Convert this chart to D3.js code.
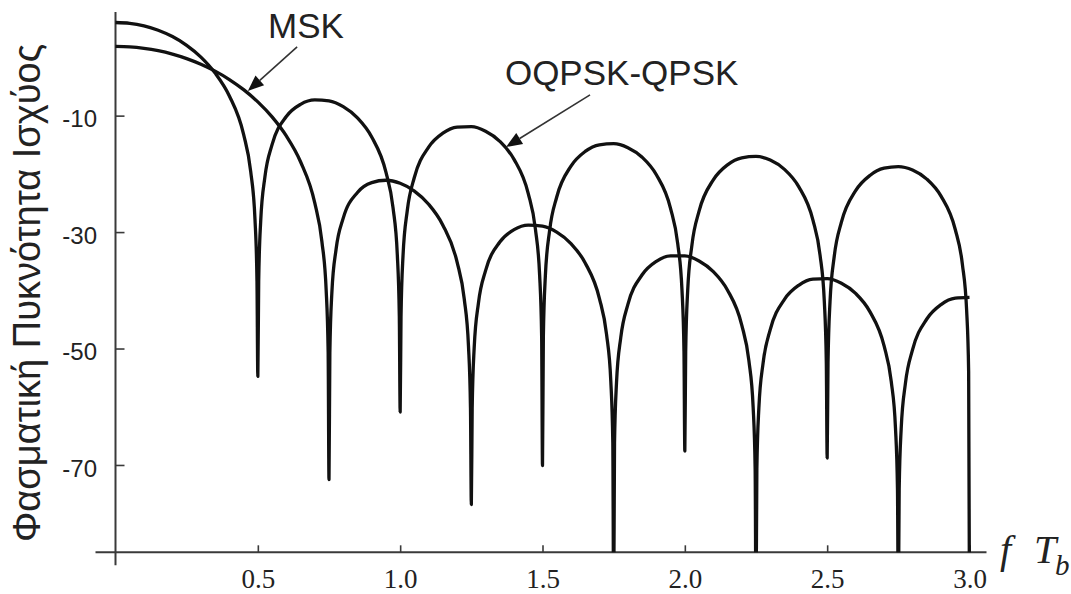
<!DOCTYPE html>
<html>
<head>
<meta charset="utf-8">
<script src="https://cdn.jsdelivr.net/npm/d3@7/dist/d3.min.js"></script>
<style>
  html, body { margin: 0; padding: 0; background: #fff; }
  svg { display: block; }
</style>
</head>
<body>
<svg id="chart" width="1071" height="594"></svg>
<script>
// Power spectral density (dB) versus normalised frequency f·Tb

// OQPSK / QPSK spectrum: main lobe plus five side lobes, nulls every 0.5
const oqpskFreq = [
  0, 0.05, 0.1, 0.15, 0.2, 0.25, 0.3, 0.35, 0.4, 0.45, 0.475, 0.49, 0.497, 0.5,
  0.503, 0.51, 0.525, 0.55, 0.6, 0.65, 0.7, 0.75, 0.8, 0.85, 0.9, 0.95, 0.975, 0.99, 0.997, 1.0,
  1.003, 1.01, 1.025, 1.05, 1.1, 1.15, 1.2, 1.25, 1.3, 1.35, 1.4, 1.45, 1.475, 1.49, 1.497, 1.5,
  1.503, 1.51, 1.525, 1.55, 1.6, 1.65, 1.7, 1.75, 1.8, 1.85, 1.9, 1.95, 1.975, 1.99, 1.997, 2.0,
  2.003, 2.01, 2.025, 2.05, 2.1, 2.15, 2.2, 2.25, 2.3, 2.35, 2.4, 2.45, 2.475, 2.49, 2.497, 2.5,
  2.503, 2.51, 2.525, 2.55, 2.6, 2.65, 2.7, 2.75, 2.8, 2.85, 2.9, 2.95, 2.975, 2.99, 2.997, 3.0
];
const oqpskDb = [
  6.0, 5.86, 5.42, 4.67, 3.58, 2.08, 0.06, -2.69, -6.62, -13.23, -19.61, -27.81, -38.38, -54.8,
  -38.49, -28.16, -20.48, -14.97, -10.15, -8.06, -7.30, -7.47, -8.46, -10.39, -13.67, -19.72, -25.85, -33.92, -44.43, -60.9,
  -44.48, -34.09, -26.29, -20.59, -15.41, -13.02, -11.98, -11.90, -12.68, -14.41, -17.51, -23.39, -29.45, -37.47, -47.96, -70.1,
  -47.99, -37.58, -29.74, -23.97, -18.67, -16.15, -15.01, -14.82, -15.51, -17.15, -20.16, -25.96, -31.99, -39.98, -50.46, -67.6,
  -50.49, -40.07, -32.20, -26.40, -21.03, -18.45, -17.25, -17.01, -17.63, -19.23, -22.19, -27.95, -33.95, -41.93, -52.40, -68.8,
  -52.42, -42.00, -34.12, -28.29, -22.88, -20.27, -19.03, -18.75, -19.34, -20.90, -23.83, -29.56, -35.54, -43.51, -53.99, -95
];

// MSK spectrum: wider main lobe, nulls at 0.75, 1.25, 1.75, ...
const mskFreq = [
  0, 0.05, 0.1, 0.15, 0.2, 0.25, 0.3, 0.35, 0.4, 0.45, 0.5, 0.55, 0.6, 0.65, 0.7, 0.725, 0.74, 0.747, 0.75,
  0.753, 0.76, 0.775, 0.8, 0.85, 0.9, 0.95, 1.0, 1.05, 1.1, 1.15, 1.2, 1.225, 1.24, 1.247, 1.25,
  1.253, 1.26, 1.275, 1.3, 1.35, 1.4, 1.45, 1.5, 1.55, 1.6, 1.65, 1.7, 1.725, 1.74, 1.747, 1.75,
  1.753, 1.76, 1.775, 1.8, 1.85, 1.9, 1.95, 2.0, 2.05, 2.1, 2.15, 2.2, 2.225, 2.24, 2.247, 2.25,
  2.253, 2.26, 2.275, 2.3, 2.35, 2.4, 2.45, 2.5, 2.55, 2.6, 2.65, 2.7, 2.725, 2.74, 2.747, 2.75,
  2.753, 2.76, 2.775, 2.8, 2.85, 2.9, 2.95, 3.0
];
const mskDb = [
  1.9, 1.82, 1.57, 1.16, 0.57, -0.2, -1.17, -2.36, -3.80, -5.54, -7.64, -10.22, -13.49, -17.92, -25.00, -31.61, -39.94, -50.57, -72.5,
  -50.73, -40.46, -32.91, -27.61, -23.19, -21.50, -21.10, -21.62, -22.96, -25.22, -28.81, -35.16, -41.45, -49.60, -60.15, -76.8,
  -60.24, -49.89, -42.17, -36.61, -31.71, -29.59, -28.81, -28.98, -30.00, -31.97, -35.30, -41.41, -47.58, -55.66, -66.18, -95,
  -66.25, -55.87, -48.09, -42.42, -37.33, -35.02, -34.08, -34.09, -34.96, -36.79, -39.98, -45.97, -52.08, -60.12, -70.63, -95,
  -70.68, -60.28, -52.47, -46.75, -41.55, -39.14, -38.09, -38.01, -38.80, -40.54, -43.66, -49.56, -55.63, -63.66, -74.15, -95,
  -74.19, -63.79, -55.95, -50.20, -44.93, -42.45, -41.35, -41.21
];

// Axis ticks
const xMajorTicks = [0.5, 1.0, 1.5, 2.0, 2.5, 3.0];
const xMinorTicks = [0.1, 0.2, 0.3, 0.4, 0.6, 0.7, 0.8, 0.9, 1.1, 1.2, 1.3, 1.4, 1.6, 1.7, 1.8, 1.9,
                     2.1, 2.2, 2.3, 2.4, 2.6, 2.7, 2.8, 2.9];
const yMajorTicks = [-10, -30, -50, -70];
const yDecadeTicks = [10, -10, -30, -50, -70];
const yMinorOffsets = [-1.0, -1.8, -2.6, -3.5, -4.7, -6.5, -9.2];

// Curve labels with arrow tail/tip in data units
const labels = [
  { text: "MSK",        tx: 0.536, ty: 3.35,  ax0: 0.638, ay0: 1.8,   ax1: 0.465, ay1: -5.76 },
  { text: "OQPSK-QPSK", tx: 1.368, ty: -4.73, ax0: 1.667, ay0: -6.44, ax1: 1.372, ay1: -15.38 }
];

const svg = d3.select("#chart");
const ink = "#111";
const axisInk = "#3a3a3a";

const x = d3.scaleLinear().domain([0, 3]).range([115.5, 969.5]);
const y = d3.scaleLinear().domain([-85, 7.8]).range([552.3, 12]);

// Plot-area clip so clipped nulls stop at the frequency axis
svg.append("defs").append("clipPath").attr("id", "plotClip")
  .append("rect")
  .attr("x", x(0) - 2).attr("y", y(7.8))
  .attr("width", x(3) - x(0) + 8).attr("height", y(-85) - y(7.8));

// Axes
const gx = svg.append("g").attr("transform", `translate(0,${y(-85)})`);
gx.call(d3.axisBottom(x).tickValues(xMinorTicks).tickSize(-5).tickFormat(""));
gx.call(d3.axisBottom(x).tickValues(xMajorTicks).tickSize(-7).tickPadding(17)
  .tickFormat(d3.format(".1f")));
gx.selectAll(".domain").remove();
gx.selectAll("line").attr("stroke", axisInk).attr("stroke-width", 1.6);
gx.selectAll("text")
  .attr("font-family", "'Liberation Serif', 'Times New Roman', serif")
  .attr("font-size", 27).attr("fill", "#222");

const yMinorTicks = [];
yDecadeTicks.forEach(m => yMinorOffsets.forEach(o => {
  const v = m + o;
  if (v > -85 && v < 7.8) yMinorTicks.push(v);
}));

const gy = svg.append("g").attr("transform", `translate(${x(0)},0)`);
gy.call(d3.axisLeft(y).tickValues(yMinorTicks).tickSize(-3).tickFormat(""));
gy.call(d3.axisLeft(y).tickValues(yMajorTicks).tickSize(-9).tickPadding(18.5)
  .tickFormat(d => String(d)));
gy.selectAll(".domain").remove();
gy.selectAll("line").attr("stroke", axisInk).attr("stroke-width", 1.6);
gy.selectAll("text")
  .attr("font-family", "'Liberation Sans', Arial, sans-serif")
  .attr("font-size", 24).attr("fill", "#222").attr("dy", "0.46em");

// Axis lines, crossing with a small overhang
svg.append("line")
  .attr("x1", x(0)).attr("x2", x(0)).attr("y1", y(7.8)).attr("y2", y(-85) + 13)
  .attr("stroke", axisInk).attr("stroke-width", 2);
svg.append("line")
  .attr("x1", x(0) - 20).attr("x2", x(3) + 17).attr("y1", y(-85)).attr("y2", y(-85))
  .attr("stroke", axisInk).attr("stroke-width", 2);

// Spectra
const line = d3.line()
  .x(d => x(d[0]))
  .y(d => y(d[1]))
  .curve(d3.curveMonotoneX);

const series = [
  d3.zip(oqpskFreq, oqpskDb),
  d3.zip(mskFreq, mskDb)
];

svg.append("g").attr("clip-path", "url(#plotClip)")
  .selectAll("path")
  .data(series)
  .join("path")
  .attr("d", line)
  .attr("fill", "none")
  .attr("stroke", ink)
  .attr("stroke-width", 3.3)
  .attr("stroke-linejoin", "round");

// Curve labels with arrows
const ann = svg.append("g");
labels.forEach(l => {
  ann.append("text")
    .attr("x", x(l.tx)).attr("y", y(l.ty))
    .attr("font-family", "'Liberation Sans', Arial, sans-serif")
    .attr("font-size", 35).attr("fill", "#222")
    .text(l.text);

  const x0 = x(l.ax0), y0 = y(l.ay0), x1 = x(l.ax1), y1 = y(l.ay1);
  const ang = Math.atan2(y1 - y0, x1 - x0);
  const headLen = 16, headHalf = 6.5;
  const bx = x1 - headLen * Math.cos(ang), by = y1 - headLen * Math.sin(ang);
  ann.append("line")
    .attr("x1", x0).attr("y1", y0).attr("x2", bx).attr("y2", by)
    .attr("stroke", "#333").attr("stroke-width", 1.6);
  const px = -Math.sin(ang), py = Math.cos(ang);
  ann.append("path")
    .attr("d", `M${x1},${y1}L${bx + headHalf * px},${by + headHalf * py}L${bx - headHalf * px},${by - headHalf * py}Z`)
    .attr("fill", "#111");
});

// Axis titles
svg.append("text")
  .attr("transform", `translate(40,${293}) rotate(-90)`)
  .attr("text-anchor", "middle")
  .attr("font-family", "'Liberation Sans', Arial, sans-serif")
  .attr("font-size", 38).attr("fill", "#222")
  .text("Φασματική Πυκνότητα Ισχύος");

const xt = svg.append("g")
  .attr("font-family", "'Liberation Serif', 'Times New Roman', serif")
  .attr("font-style", "italic").attr("fill", "#222");
xt.append("text").attr("x", 1000).attr("y", 563).attr("font-size", 40).text("f");
xt.append("text").attr("x", 1034).attr("y", 563).attr("font-size", 40).text("T");
xt.append("text").attr("x", 1055).attr("y", 575).attr("font-size", 29).text("b");
</script>
</body>
</html>
